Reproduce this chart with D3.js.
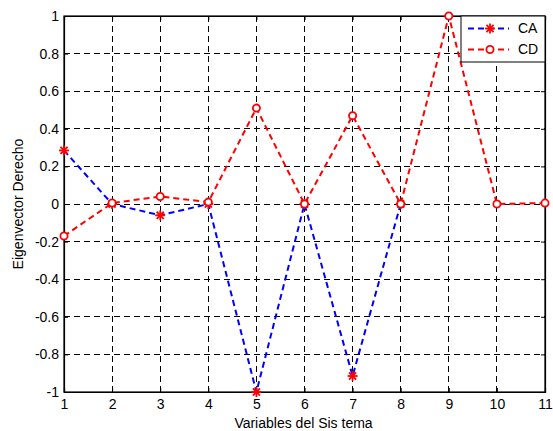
<!DOCTYPE html>
<html lang="es">
  <head>
    <meta charset="UTF-8" />
    <title>Eigenvector Derecho</title>
    <style>
      body { margin: 0; background: #fff; }
      svg text { font-family: "Liberation Sans", Arial, sans-serif; font-size: 14px; fill: #000; }
    </style>
  </head>
  <body>
    <script src="https://cdn.jsdelivr.net/npm/d3@7"></script>
    <script>
    // data
    var variablesCA = [1, 2, 3, 4, 5, 6, 7, 8];
    var valoresCA = [0.285, 0.0, -0.06, 0.0, -1.0, 0.0, -0.915, 0.0];
    var variablesCD = [1, 2, 3, 4, 5, 6, 7, 8, 9, 10, 11];
    var valoresCD = [-0.17, 0.005, 0.04, 0.01, 0.51, 0.0, 0.47, 0.0, 1.0, 0.0, 0.005];
    var xTicks = [1, 2, 3, 4, 5, 6, 7, 8, 9, 10, 11];
    var yTicks = [-1, -0.8, -0.6, -0.4, -0.2, 0, 0.2, 0.4, 0.6, 0.8, 1];

    var W = 553, H = 431;
    var margin = { top: 16, right: 8, bottom: 39, left: 64 };
    var width = W - margin.left - margin.right;
    var height = H - margin.top - margin.bottom;

    var svg = d3.select("body").append("svg")
      .attr("width", W)
      .attr("height", H);

    var g = svg.append("g")
      .attr("transform", "translate(" + margin.left + "," + margin.top + ")");

    var x = d3.scaleLinear().domain([1, 11]).range([0, width]);
    var y = d3.scaleLinear().domain([-1, 1]).range([height, 0]);

    // grid
    g.append("g").selectAll("line")
      .data(xTicks.slice(1, -1))
      .enter().append("line")
      .attr("x1", d => x(d)).attr("x2", d => x(d))
      .attr("y1", 0).attr("y2", height)
      .attr("stroke", "#000").attr("stroke-width", 1)
      .attr("stroke-dasharray", "6,4")
      .attr("shape-rendering", "crispEdges");
    g.append("g").selectAll("line")
      .data(yTicks.slice(1, -1))
      .enter().append("line")
      .attr("y1", d => y(d)).attr("y2", d => y(d))
      .attr("x1", 0).attr("x2", width)
      .attr("stroke", "#000").attr("stroke-width", 1)
      .attr("stroke-dasharray", "6,4")
      .attr("shape-rendering", "crispEdges");

    // axes, ticks inward; plain hyphen for negatives like the original
    var fmtY = d => String(+d.toFixed(1));
    var xAxis = d3.axisBottom(x).tickValues(xTicks).tickSize(-4).tickPadding(7).tickFormat(d => String(d));
    var yAxis = d3.axisLeft(y).tickValues(yTicks).tickSize(-4).tickPadding(5).tickFormat(fmtY);
    g.append("g").attr("transform", "translate(0," + height + ")").call(xAxis);
    g.append("g").call(yAxis);
    g.append("g").call(d3.axisTop(x).tickValues(xTicks).tickSize(-4).tickFormat(""));
    g.append("g").attr("transform", "translate(" + width + ",0)")
      .call(d3.axisRight(y).tickValues(yTicks).tickSize(-4).tickFormat(""));
    g.selectAll(".domain").attr("stroke", "#000").attr("stroke-width", 1.2);
    g.selectAll(".tick line").attr("stroke", "#000");
    g.selectAll(".tick text").style("font-size", "14px")
      .style("font-family", "'Liberation Sans', Arial, sans-serif").attr("fill", "#000");

    // box
    g.append("rect").attr("width", width).attr("height", height)
      .attr("fill", "none").attr("stroke", "#000").attr("stroke-width", 1.2);

    var line = d3.line().x(d => x(d[0])).y(d => y(d[1]));
    var ca = variablesCA.map((v, i) => [v, valoresCA[i]]);
    var cd = variablesCD.map((v, i) => [v, valoresCD[i]]);

    function star(sel, cx, cy, r) {
      var gs = sel.append("g").attr("transform", "translate(" + cx + "," + cy + ")");
      [0, 45, 90, 135].forEach(function(a) {
        var rad = a * Math.PI / 180;
        gs.append("line")
          .attr("x1", -r * Math.cos(rad)).attr("y1", -r * Math.sin(rad))
          .attr("x2", r * Math.cos(rad)).attr("y2", r * Math.sin(rad))
          .attr("stroke", "#ff0000").attr("stroke-width", 1.8);
      });
    }

    // CA
    g.append("path").datum(ca).attr("d", line)
      .attr("fill", "none").attr("stroke", "#0000ff").attr("stroke-width", 2)
      .attr("stroke-dasharray", "6,4");
    ca.forEach(d => star(g, x(d[0]), y(d[1]), 5));

    // CD
    g.append("path").datum(cd).attr("d", line)
      .attr("fill", "none").attr("stroke", "#ff0000").attr("stroke-width", 2)
      .attr("stroke-dasharray", "6,4");
    g.append("g").selectAll("circle").data(cd).enter().append("circle")
      .attr("cx", d => x(d[0])).attr("cy", d => y(d[1])).attr("r", 3.6)
      .attr("fill", "#fff").attr("stroke", "#ff0000").attr("stroke-width", 1.8);

    // legend
    var lg = svg.append("g").attr("transform", "translate(461,16)");
    lg.append("rect").attr("width", 84).attr("height", 46)
      .attr("fill", "#fff").attr("stroke", "#000").attr("stroke-width", 1);
    var names = ["CA", "CD"];
    var colores = ["#0000ff", "#ff0000"];
    names.forEach(function(n, i) {
      var ly = 12.5 + i * 21;
      lg.append("line").attr("x1", 7).attr("x2", 48).attr("y1", ly).attr("y2", ly)
        .attr("stroke", colores[i]).attr("stroke-width", 2).attr("stroke-dasharray", "6,4");
      if (i === 0) star(lg, 29, ly, 5);
      else lg.append("circle").attr("cx", 29).attr("cy", ly).attr("r", 3.6)
        .attr("fill", "#fff").attr("stroke", "#ff0000").attr("stroke-width", 1.8);
      lg.append("text").attr("x", 57).attr("y", ly).attr("dy", "0.35em").text(n);
    });

    // axis labels
    svg.append("text").attr("x", margin.left + width / 2 - 1).attr("y", 428)
      .attr("text-anchor", "middle").text("Variables del Sis tema");
    svg.append("text")
      .attr("transform", "translate(23," + (margin.top + height / 2) + ") rotate(-90)")
      .attr("text-anchor", "middle").text("Eigenvector Derecho");
    </script>
  </body>
</html>
